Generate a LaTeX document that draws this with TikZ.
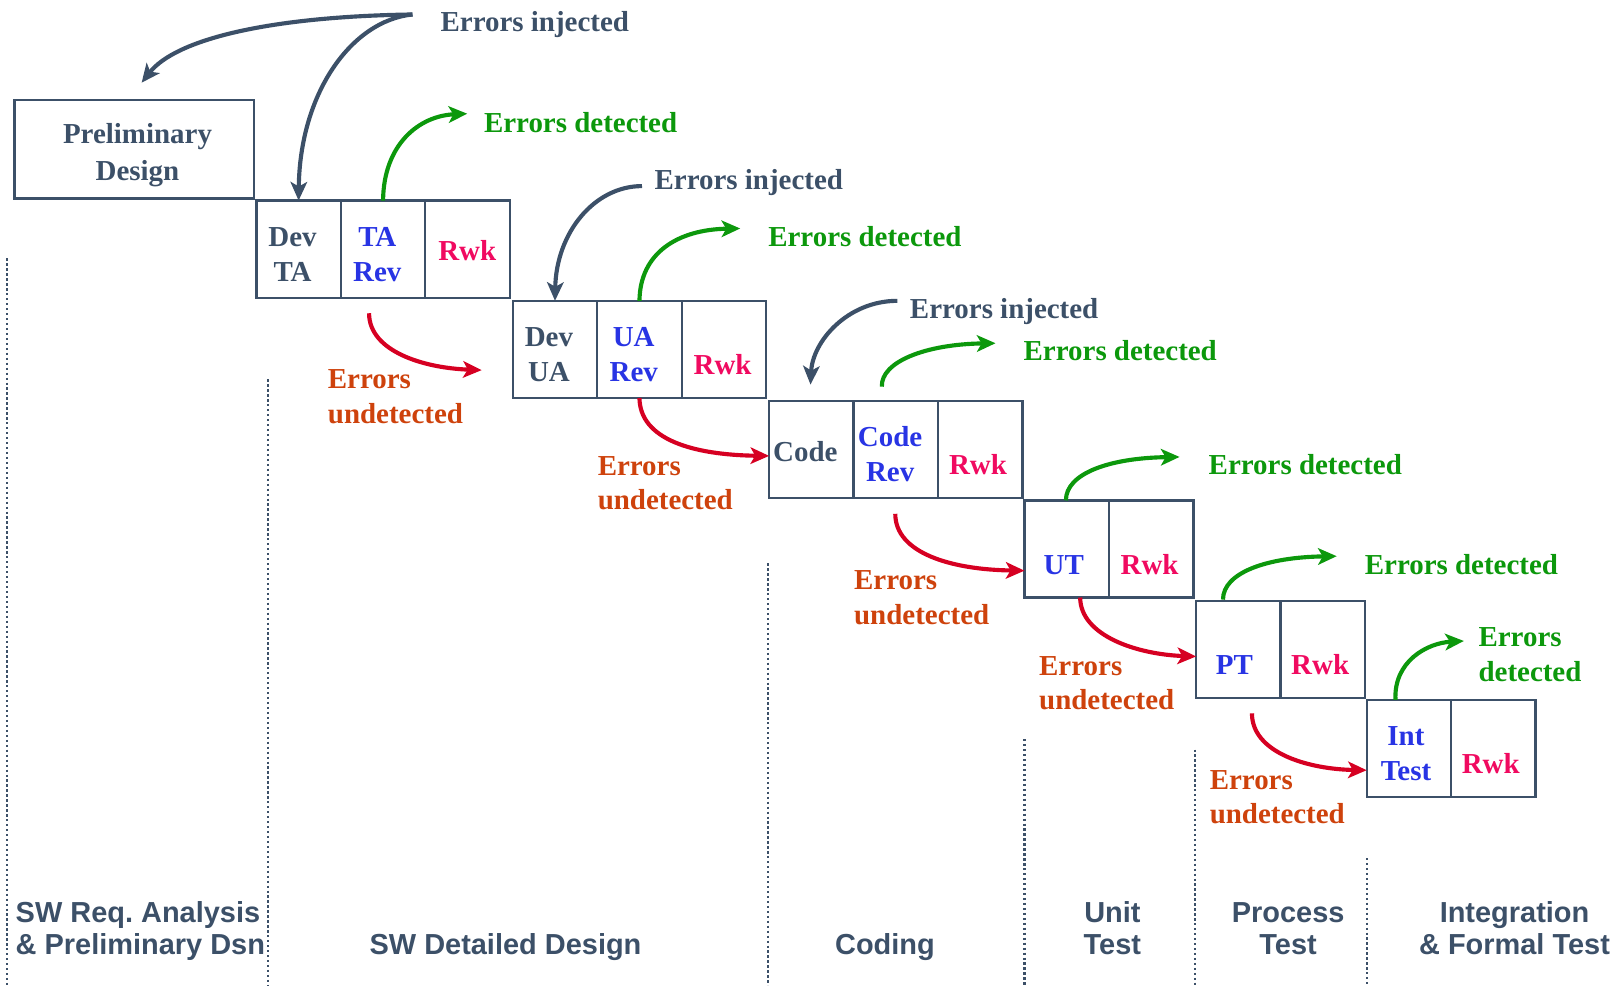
\documentclass[tikz,border=0pt]{standalone}
\usepackage{fontspec}
\setmainfont{Liberation Serif}
\setsansfont{Liberation Sans}
\usetikzlibrary{arrows.meta,calc}
\frenchspacing
\definecolor{slate}{RGB}{60,80,104}
\definecolor{revblue}{RGB}{40,52,228}
\definecolor{rwkpink}{RGB}{240,10,96}
\definecolor{okgreen}{RGB}{12,152,12}
\definecolor{missred}{RGB}{214,0,34}
\definecolor{misstxt}{RGB}{206,66,12}
\tikzset{
  frame/.style={draw=slate, line width=2.2pt, inner sep=0pt, outer sep=0pt},
  cellbox/.style={frame, minimum width=81.7pt, minimum height=94pt, anchor=north west},
  lbl/.style={font=\fontsize{28}{33.5}\selectfont\bfseries, inner sep=0pt},
  phase/.style={font=\sffamily\fontsize{28}{31}\selectfont\bfseries, text=slate, inner sep=0pt},
  tip/.style={-{Stealth[length=18pt,width=16pt,inset=4.5pt]}},
  injarrow/.style={tip, draw=slate, line width=4pt},
  detarrow/.style={tip, draw=okgreen, line width=4pt},
  undarrow/.style={tip, draw=missred, line width=4pt},
  divider/.style={draw=slate, line width=2.2pt, dash pattern=on 2.2pt off 2.6pt}
}
\begin{document}
\begin{tikzpicture}[x=1pt, y=-1pt]
\useasboundingbox (0,0) rectangle (1568,953);

% phase dividers
\draw[divider] (7,250) -- (7,953);
\draw[divider] (259,367) -- (259,953);
\draw[divider] (743,545) -- (743,953);
\draw[divider] (991,715) -- (991,953);
\draw[divider] (1156,725) -- (1156,953);
\draw[divider] (1322,830) -- (1322,953);

% preliminary design
\node[frame, minimum width=232pt, minimum height=95pt, anchor=north west] (pd) at (14,97) {};
\node[lbl, text=slate, align=center] (pdt) at (133,150) {Preliminary\\[1.5pt]Design};

% activity cells
\node[cellbox] (c11) at (248,194) {};
\node[cellbox] (c12) at (c11.north east) {};
\node[cellbox] (c13) at (c12.north east) {};
\node[cellbox] (c21) at (496,291) {};
\node[cellbox] (c22) at (c21.north east) {};
\node[cellbox] (c23) at (c22.north east) {};
\node[cellbox] (c31) at (744,388) {};
\node[cellbox] (c32) at (c31.north east) {};
\node[cellbox] (c33) at (c32.north east) {};
\node[cellbox] (c41) at (991,484) {};
\node[cellbox] (c42) at (c41.north east) {};
\node[cellbox] (c51) at (1157,581) {};
\node[cellbox] (c52) at (c51.north east) {};
\node[cellbox] (c61) at (1322,677) {};
\node[cellbox] (c62) at (c61.north east) {};

% cell texts
\node[lbl, text=slate, align=center] (t11) at (283,246) {Dev\\TA};
\node[lbl, text=revblue, align=center] (t12) at (365,246) {TA\\Rev};
\node[lbl, text=rwkpink, anchor=base] (t13) at (452,252) {Rwk};
\node[lbl, text=slate, align=center] (t21) at (531,343) {Dev\\UA};
\node[lbl, text=revblue, align=center] (t22) at (613,343) {UA\\Rev};
\node[lbl, text=rwkpink, anchor=base] (t23) at (699,362) {Rwk};
\node[lbl, text=slate, anchor=base] (t31) at (779,446) {Code};
\node[lbl, text=revblue, align=center] (t32) at (861,439) {Code\\Rev};
\node[lbl, text=rwkpink, anchor=base] (t33) at (946,459) {Rwk};
\node[lbl, text=revblue, anchor=base] (t41) at (1029,556) {UT};
\node[lbl, text=rwkpink, anchor=base] (t42) at (1112,556) {Rwk};
\node[lbl, text=revblue, anchor=base] (t51) at (1194,652) {PT};
\node[lbl, text=rwkpink, anchor=base] (t52) at (1277,652) {Rwk};
\node[lbl, text=revblue, align=center] (t61) at (1360,729) {Int\\Test};
\node[lbl, text=rwkpink, anchor=base] (t62) at (1442,748) {Rwk};

% injected / detected / undetected labels
\node[lbl, text=slate, anchor=base west] (inj1) at (426,30) {Errors injected};
\node[lbl, text=slate, anchor=base west] (inj2) at (633,183) {Errors injected};
\node[lbl, text=slate, anchor=base west] (inj3) at (880,308) {Errors injected};
\node[lbl, text=okgreen, anchor=base west] (det1) at (468,128) {Errors detected};
\node[lbl, text=okgreen, anchor=base west] (det2) at (743,238) {Errors detected};
\node[lbl, text=okgreen, anchor=base west] (det3) at (990,349) {Errors detected};
\node[lbl, text=okgreen, anchor=base west] (det4) at (1169,459) {Errors detected};
\node[lbl, text=okgreen, anchor=base west] (det5) at (1320,556) {Errors detected};
\node[lbl, text=okgreen, anchor=west, align=left] (det6) at (1430,633.5) {Errors\\detected};
\node[lbl, text=misstxt, anchor=west, align=left] (und1) at (317,384) {Errors\\undetected};
\node[lbl, text=misstxt, anchor=west, align=left] (und2) at (578,467.5) {Errors\\undetected};
\node[lbl, text=misstxt, anchor=west, align=left] (und3) at (826,578) {Errors\\undetected};
\node[lbl, text=misstxt, anchor=west, align=left] (und4) at (1005,661) {Errors\\undetected};
\node[lbl, text=misstxt, anchor=west, align=left] (und5) at (1170,771) {Errors\\undetected};

% phase names
\node[phase, anchor=west, align=left] (ph1) at (15,901) {SW Req. Analysis\\\& Preliminary Dsn};
\node[phase, anchor=base] (ph2) at (489,923) {SW Detailed Design};
\node[phase, anchor=base] (ph3) at (856,923) {Coding};
\node[phase, align=center] (ph4) at (1076,898) {Unit\\Test};
\node[phase, align=center] (ph5) at (1246,898) {Process\\Test};
\node[phase, align=center] (ph6) at (1465,898) {Integration\\\& Formal Test};

% arrow end points
\coordinate (s1) at (399,14);
\coordinate (e1) at (137,80);
\coordinate (s2) at (621,180);
\coordinate (s3) at (868,291);
\coordinate (e3) at (784,372);
\coordinate (g1) at (452,110);
\coordinate (g2) at (716,221);
\coordinate (g3s) at (853,374);
\coordinate (g3) at (963,332);
\coordinate (g4) at (1141,442);
\coordinate (g5s) at (1183,580);
\coordinate (g5) at (1293,538);
\coordinate (g6) at (1416,620);
\coordinate (r1s) at (357,303);
\coordinate (r1) at (466,358);
\coordinate (r3s) at (866,497);
\coordinate (r5s) at (1211,690);

% errors injected
\draw[injarrow] (s1) .. controls (260,16) and (170,38) .. (e1);
\draw[injarrow] (s1) .. controls (340,20) and (290,90) .. (c11.north);
\draw[injarrow] (s2) .. controls (575,180) and (538,225) .. (c21.north);
\draw[injarrow] (s3) .. controls (820,291) and (786,330) .. (e3);

% errors detected
\draw[detarrow] (c12.north) .. controls (371,140) and (405,112) .. (g1);
\draw[detarrow] (c22.north) .. controls (619,245) and (655,222) .. (g2);
\draw[detarrow] (g3s) .. controls (852,350) and (895,333) .. (g3);
\draw[detarrow] ([xshift=-0.8pt]c41.north) .. controls (1031,458) and (1073,443) .. (g4);
\draw[detarrow] (g5s) .. controls (1183,554) and (1225,539) .. (g5);
\draw[detarrow] ([xshift=-13pt]c61.north) .. controls (1348,640) and (1380,622) .. (g6);

% errors undetected
\draw[undarrow] (r1s) .. controls (357,340) and (410,356) .. (r1);
\draw[undarrow] (c22.south) .. controls (619,425) and (670,440) .. (c31.west |- 0,441);
\draw[undarrow] (r3s) .. controls (866,535) and (920,551) .. (c41.west |- 0,552);
\draw[undarrow] ([xshift=13pt]c41.south) .. controls (1045,615) and (1100,633) .. (c51.west |- 0,635);
\draw[undarrow] (r5s) .. controls (1211,728) and (1265,744) .. (c61.west |- 0,745);
\end{tikzpicture}
\end{document}
